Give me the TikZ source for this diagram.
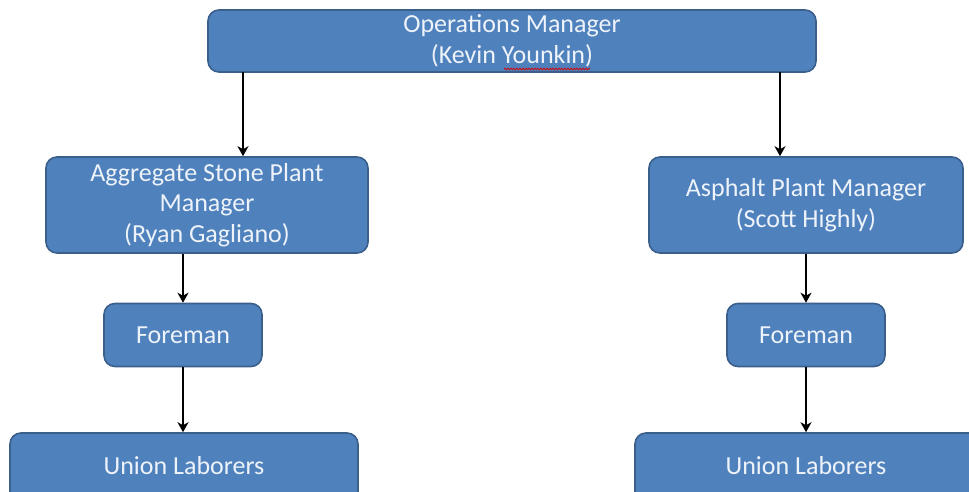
\documentclass[tikz,border=0pt]{standalone}
\usepackage{fontspec}
\setmainfont{Carlito}
\usetikzlibrary{arrows.meta,decorations.pathmorphing}
\definecolor{boxfill}{HTML}{4F81BD}
\definecolor{boxedge}{HTML}{3A5F8B}
\definecolor{boxtext}{HTML}{EEF3FA}
\tikzset{
  orgbox/.style={draw=boxedge, fill=boxfill, line width=1.6pt, rounded corners=11pt,
    text=boxtext, align=center, font=\fontsize{26}{30.5}\selectfont, inner sep=0pt},
  labeltext/.style={text=boxtext, font=\fontsize{26}{30.5}\selectfont, inner sep=0pt},
  link/.style={line width=2.2pt, black, -{Stealth[length=10pt,width=11pt,inset=3pt]}}
}
\begin{document}
\begin{tikzpicture}[x=1pt,y=-1pt]
\useasboundingbox (0,0) rectangle (969,491);
\fill[white] (0,0) rectangle (969,491);
\begin{scope}
\clip (0,0) rectangle (969,491);
\node[orgbox, minimum width=608pt, minimum height=62pt] (ops) at (512,41) {Operations Manager\\(Kevin Younkin)};
\node[orgbox, minimum width=322pt, minimum height=96pt] (agg) at (207,205) {Aggregate Stone Plant\\Manager\\(Ryan Gagliano)};
\node[orgbox, minimum width=314pt, minimum height=96pt] (asp) at (806,205) {Asphalt Plant Manager\\(Scott Highly)};
\node[orgbox, minimum width=158pt, minimum height=63pt] (fl) at (183,335) {Foreman};
\node[orgbox, minimum width=158pt, minimum height=63pt] (fr) at (806,335) {Foreman};
\node[orgbox, minimum width=348pt, minimum height=96pt] (ul) at (184,481) {};
\node[orgbox, minimum width=348pt, minimum height=96pt] (ur) at (809,481) {};
\node[labeltext] (ult) at (184,466) {Union Laborers};
\node[labeltext] (urt) at (806,466) {Union Laborers};
\end{scope}
\coordinate (o1) at (243,72);
\coordinate (o2) at (780,72);
\draw[link] (o1) -- (o1 |- agg.north);
\draw[link] (o2) -- (o2 |- asp.north);
\draw[link] (fl |- agg.south) -- (fl.north);
\draw[link] (fr |- asp.south) -- (fr.north);
\draw[link] (fl.south) -- (fl |- ul.north);
\draw[link] (fr.south) -- (fr |- ur.north);
\coordinate (sq1) at (504,69);
\coordinate (sq2) at (590,69);
\draw[red!85!black, line width=0.7pt, decorate, decoration={snake, amplitude=0.9pt, segment length=3pt}] (sq1) -- (sq2);
\end{tikzpicture}
\end{document}
